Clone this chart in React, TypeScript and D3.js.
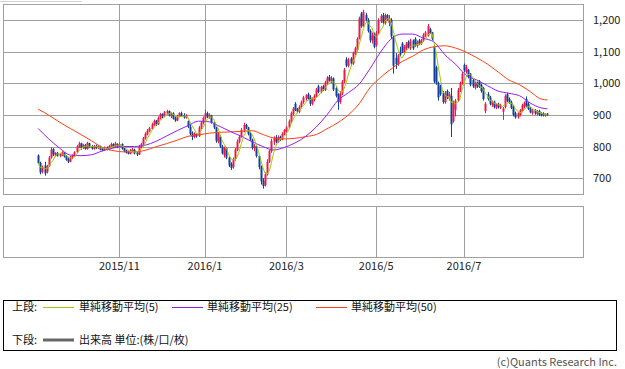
import * as d3 from 'd3';

// daily candles [open, high, low, close]
const candles: [number, number, number, number][] = [
  [772, 775, 745, 748], [748, 752, 712, 718], [720, 740, 715, 735], [740, 752, 708, 715], [720, 742, 715, 738],
  [738, 770, 735, 765], [765, 798, 762, 790], [792, 795, 770, 775], [772, 782, 768, 780], [780, 783, 768, 770],
  [770, 780, 766, 776], [772, 785, 770, 782], [780, 782, 765, 768], [770, 773, 755, 758], [760, 765, 748, 752],
  [752, 770, 750, 766], [765, 775, 760, 772], [770, 785, 768, 782], [782, 805, 780, 800], [798, 815, 795, 810],
  [810, 812, 790, 795], [795, 808, 792, 805], [805, 808, 790, 792], [792, 815, 790, 812], [810, 812, 795, 798],
  [800, 805, 790, 793], [793, 805, 790, 802], [802, 806, 792, 795], [795, 805, 792, 800], [800, 803, 788, 790],
  [792, 796, 785, 788], [788, 800, 786, 797], [797, 800, 788, 790], [790, 805, 788, 802], [800, 812, 797, 808],
  [808, 810, 795, 798], [798, 815, 796, 810], [808, 810, 795, 800], [800, 812, 798, 808], [808, 810, 790, 793],
  [795, 797, 782, 785], [787, 790, 778, 780], [782, 785, 775, 777], [777, 792, 775, 788], [785, 795, 782, 790],
  [790, 793, 775, 778], [780, 782, 770, 775], [775, 805, 773, 800], [798, 812, 795, 808], [808, 830, 805, 826],
  [825, 845, 822, 840], [838, 855, 835, 850], [848, 862, 845, 858], [855, 875, 852, 870], [868, 885, 865, 880],
  [882, 884, 865, 870], [870, 895, 868, 890], [890, 906, 885, 902], [902, 905, 890, 895], [895, 912, 892, 908],
  [905, 916, 900, 912], [912, 914, 895, 898], [895, 908, 890, 905], [905, 908, 885, 888], [890, 895, 878, 882],
  [882, 900, 880, 897], [895, 908, 892, 905], [905, 910, 895, 898], [900, 905, 888, 892], [892, 902, 888, 898],
  [880, 882, 858, 862], [862, 870, 835, 840], [842, 848, 820, 830], [830, 845, 826, 840], [840, 842, 828, 832],
  [832, 865, 830, 860], [860, 880, 855, 876], [875, 895, 870, 890], [890, 916, 885, 905], [905, 910, 890, 895],
  [893, 905, 888, 900], [898, 900, 872, 876], [875, 878, 855, 860], [860, 862, 812, 818], [815, 845, 810, 840],
  [830, 835, 795, 800], [800, 805, 775, 778], [772, 800, 765, 795], [795, 798, 760, 765], [765, 770, 735, 740],
  [745, 750, 726, 732], [735, 765, 730, 760], [760, 795, 755, 790], [788, 822, 785, 815], [815, 835, 810, 830],
  [830, 858, 828, 852], [850, 875, 845, 868], [868, 872, 855, 860], [860, 862, 835, 840], [842, 845, 818, 822],
  [822, 825, 790, 795], [795, 808, 785, 802], [800, 802, 765, 770], [770, 772, 728, 735], [735, 740, 680, 690],
  [692, 700, 667, 675], [678, 718, 674, 712], [712, 760, 708, 752], [752, 790, 748, 785], [785, 825, 780, 818],
  [815, 832, 805, 828], [828, 836, 810, 815], [815, 835, 812, 830], [830, 834, 818, 822], [822, 845, 820, 840],
  [840, 855, 835, 852], [848, 865, 845, 860], [860, 885, 858, 880], [880, 910, 875, 905], [903, 925, 898, 920],
  [935, 940, 912, 915], [918, 922, 905, 910], [910, 930, 905, 925], [925, 945, 920, 940], [940, 960, 935, 955],
  [952, 965, 945, 962], [965, 970, 948, 950], [955, 962, 928, 935], [935, 955, 930, 950], [948, 965, 942, 960],
  [958, 985, 955, 980], [990, 995, 968, 972], [972, 992, 968, 988], [990, 995, 975, 980], [978, 1008, 975, 1002],
  [1000, 1022, 995, 1018], [1020, 1026, 1005, 1008], [1005, 1022, 1000, 1015], [1015, 1018, 975, 980], [985, 990, 955, 960],
  [965, 968, 916, 940], [940, 975, 935, 968], [968, 1010, 962, 1005], [1005, 1048, 1000, 1042], [1075, 1082, 1050, 1055],
  [1055, 1080, 1050, 1075], [1078, 1082, 1058, 1062], [1062, 1100, 1058, 1095], [1092, 1115, 1088, 1110], [1105, 1145, 1100, 1140],
  [1140, 1210, 1138, 1205], [1220, 1225, 1175, 1180], [1180, 1232, 1178, 1225], [1215, 1222, 1195, 1200], [1198, 1205, 1160, 1165],
  [1165, 1170, 1128, 1135], [1135, 1160, 1125, 1150], [1155, 1160, 1110, 1115], [1120, 1165, 1115, 1160], [1160, 1205, 1155, 1198],
  [1195, 1218, 1190, 1212], [1215, 1222, 1185, 1190], [1190, 1220, 1185, 1215], [1215, 1218, 1198, 1200], [1190, 1215, 1180, 1205],
  [1200, 1205, 1140, 1148], [1145, 1150, 1030, 1055], [1080, 1095, 1045, 1060], [1060, 1092, 1055, 1088], [1100, 1115, 1085, 1090],
  [1125, 1130, 1095, 1100], [1095, 1120, 1090, 1115], [1110, 1130, 1105, 1125], [1130, 1135, 1108, 1112], [1110, 1140, 1105, 1135],
  [1135, 1138, 1105, 1110], [1140, 1145, 1115, 1118], [1118, 1135, 1112, 1130], [1135, 1140, 1120, 1125], [1125, 1140, 1120, 1135],
  [1135, 1158, 1130, 1152], [1150, 1165, 1145, 1160], [1150, 1187, 1147, 1180], [1170, 1175, 1155, 1158], [1160, 1162, 1135, 1140],
  [1115, 1120, 1000, 1005], [1050, 1055, 995, 1000], [1000, 1005, 945, 955], [990, 995, 960, 965], [970, 975, 935, 940],
  [940, 975, 935, 968], [975, 980, 950, 955], [950, 972, 945, 965], [960, 985, 830, 870], [880, 945, 875, 940],
  [915, 950, 895, 945], [945, 985, 940, 978], [978, 1005, 972, 1000], [1000, 1035, 995, 1030], [1058, 1062, 1035, 1040],
  [1035, 1058, 1030, 1050], [1042, 1045, 1015, 1020], [1030, 1032, 990, 995], [1010, 1015, 985, 990], [985, 1005, 980, 1000],
  [1002, 1005, 985, 990], [1005, 1010, 985, 988], [995, 998, 970, 975], [985, 988, 945, 950], [912, 940, 905, 935],
  [965, 972, 945, 950], [955, 960, 930, 935], [930, 945, 925, 940], [942, 945, 920, 925], [922, 935, 918, 932],
  [935, 938, 920, 925], [922, 935, 918, 930], [910, 925, 884, 920], [925, 965, 920, 960], [965, 970, 940, 945],
  [950, 955, 935, 938], [940, 945, 918, 922], [925, 930, 895, 900], [905, 910, 888, 892], [892, 908, 888, 905],
  [900, 918, 895, 915], [912, 935, 908, 930], [925, 942, 920, 938], [950, 958, 925, 928], [935, 940, 915, 918],
  [920, 925, 905, 908], [905, 918, 900, 914], [915, 918, 900, 904], [902, 915, 898, 912], [912, 916, 896, 900],
  [905, 908, 895, 898], [905, 908, 895, 899], [897, 905, 894, 902], [904, 906, 896, 899],
];

// 25 / 50 day averages, one value every 5 trading days
const maStep = 5;
const ma25Samples = [
  857, 824, 795, 773, 771, 774, 786, 795, 800, 800, 804, 816, 833, 850, 866, 880, 878, 863, 847, 832,
  815, 800, 789, 797, 811, 832, 862, 900, 945, 970, 997, 1045, 1098, 1140, 1155, 1155, 1142, 1130, 1090, 1060,
  1025, 1010, 992, 975, 968, 960, 937, 922, 919,
];
const ma50Samples = [
  918, 899, 877, 857, 838, 818, 797, 787, 783, 783, 788, 799, 809, 820, 832, 837, 842, 845, 846, 848,
  850, 838, 827, 824, 826, 831, 838, 856, 875, 900, 935, 985, 1018, 1045, 1068, 1085, 1105, 1115, 1118, 1111,
  1098, 1080, 1060, 1035, 1010, 995, 973, 950, 947,
];

const priceTicks = [700, 800, 900, 1000, 1100, 1200];
const monthTicks = [
  { label: '2015/11', idx: 38 },
  { label: '2016/1', idx: 78 },
  { label: '2016/3', idx: 116 },
  { label: '2016/5', idx: 158 },
  { label: '2016/7', idx: 199 },
];

const W = 625;
const H = 369;
const FONT = '"Noto Sans CJK JP", "Noto Sans", sans-serif';
const GRID = '#a0a0a0';
const UP = '#f0184a';
const DOWN = '#12409c';
const C5 = '#9acd00';
const C25 = '#9a1aff';
const C50 = '#ff4010';

const plot = { left: 3, right: 583, top: 4, bottom: 194 };
const vol = { top: 206, bottom: 257 };

export default function App() {
  const x = d3.scaleLinear().domain([-16.4, 254.6]).range([plot.left, plot.right]);
  const y = d3.scaleLinear().domain([650, 1250]).range([plot.bottom, plot.top]);

  const closes = candles.map((c) => c[3]);
  const ma5 = closes.map((_, i) => d3.mean(closes.slice(Math.max(0, i - 4), i + 1)) as number);
  const sampled = (arr: number[]) =>
    arr.map((v, k) => [Math.min(k * maStep, candles.length - 1), v] as [number, number]);

  const line = d3
    .line<[number, number]>()
    .x((d) => x(d[0]))
    .y((d) => y(d[1]));
  const smooth = line.curve(d3.curveMonotoneX);
  const ma25Path = smooth(sampled(ma25Samples)) || '';
  const ma50Path = smooth(sampled(ma50Samples)) || '';
  const ma5Path =
    d3
      .line<number>()
      .x((_, i) => x(i))
      .y((d) => y(d))(ma5) || '';

  return (
    <svg
      width={W}
      height={H}
      style={{ position: 'absolute', left: 0, top: 0, background: '#fff' }}
      fontFamily={FONT}
    >
      <line x1={0} x2={82} y1={1.5} y2={1.5} stroke="#d0d0d0" />

      {/* upper panel grid */}
      {priceTicks.map((p) => (
        <line key={p} x1={plot.left} x2={plot.right} y1={Math.round(y(p)) + 0.5} y2={Math.round(y(p)) + 0.5} stroke={GRID} />
      ))}
      {monthTicks.map((m) => (
        <g key={m.label}>
          <line x1={Math.round(x(m.idx)) + 0.5} x2={Math.round(x(m.idx)) + 0.5} y1={plot.top} y2={plot.bottom} stroke={GRID} />
          <line x1={Math.round(x(m.idx)) + 0.5} x2={Math.round(x(m.idx)) + 0.5} y1={vol.top} y2={vol.bottom} stroke={GRID} />
          <text x={x(m.idx)} y={270} textAnchor="middle" fontSize={11} fill="#222">
            {m.label}
          </text>
        </g>
      ))}
      <rect x={plot.left + 0.5} y={plot.top + 0.5} width={plot.right - plot.left} height={plot.bottom - plot.top} fill="none" stroke={GRID} />
      <rect x={plot.left + 0.5} y={vol.top + 0.5} width={plot.right - plot.left} height={vol.bottom - vol.top} fill="none" stroke={GRID} />

      {priceTicks.map((p) => (
        <text key={p} x={593} y={y(p) + 4} fontSize={11} fill="#222">
          {d3.format(',')(p)}
        </text>
      ))}

      {/* candles */}
      {candles.map(([o, h, l, c], i) => {
        const cx = Math.round(x(i));
        const col = c >= o ? UP : DOWN;
        const top = y(Math.max(o, c));
        const bh = Math.max(1, y(Math.min(o, c)) - top);
        return (
          <g key={i}>
            <line x1={cx + 0.5} x2={cx + 0.5} y1={y(h)} y2={y(l)} stroke={col} />
            <rect x={cx - 0.5} y={top} width={2} height={bh} fill={col} />
          </g>
        );
      })}

      <path d={ma50Path} fill="none" stroke={C50} strokeWidth={1} />
      <path d={ma25Path} fill="none" stroke={C25} strokeWidth={1} />
      <path d={ma5Path} fill="none" stroke={C5} strokeWidth={1} />

      {/* legend */}
      <rect x={3.5} y={300.5} width={613} height={50} fill="none" stroke="#000" />
      <g fontSize={11} fill="#111">
        <text x={12} y={311}>上段:</text>
        <line x1={43} x2={74} y1={307.5} y2={307.5} stroke={C5} />
        <text x={79} y={311}>単純移動平均(5)</text>
        <line x1={172} x2={203} y1={307.5} y2={307.5} stroke={C25} />
        <text x={207} y={311}>単純移動平均(25)</text>
        <line x1={316} x2={347} y1={307.5} y2={307.5} stroke={C50} />
        <text x={351} y={311}>単純移動平均(50)</text>
        <text x={12} y={344}>下段:</text>
        <line x1={43} x2={74} y1={340} y2={340} stroke="#666" strokeWidth={3} />
        <text x={79} y={344}>出来高 単位:(株/口/枚)</text>
      </g>
      <text x={617} y={366} textAnchor="end" fontSize={11} fill="#555">
        (c)Quants Research Inc.
      </text>
    </svg>
  );
}
